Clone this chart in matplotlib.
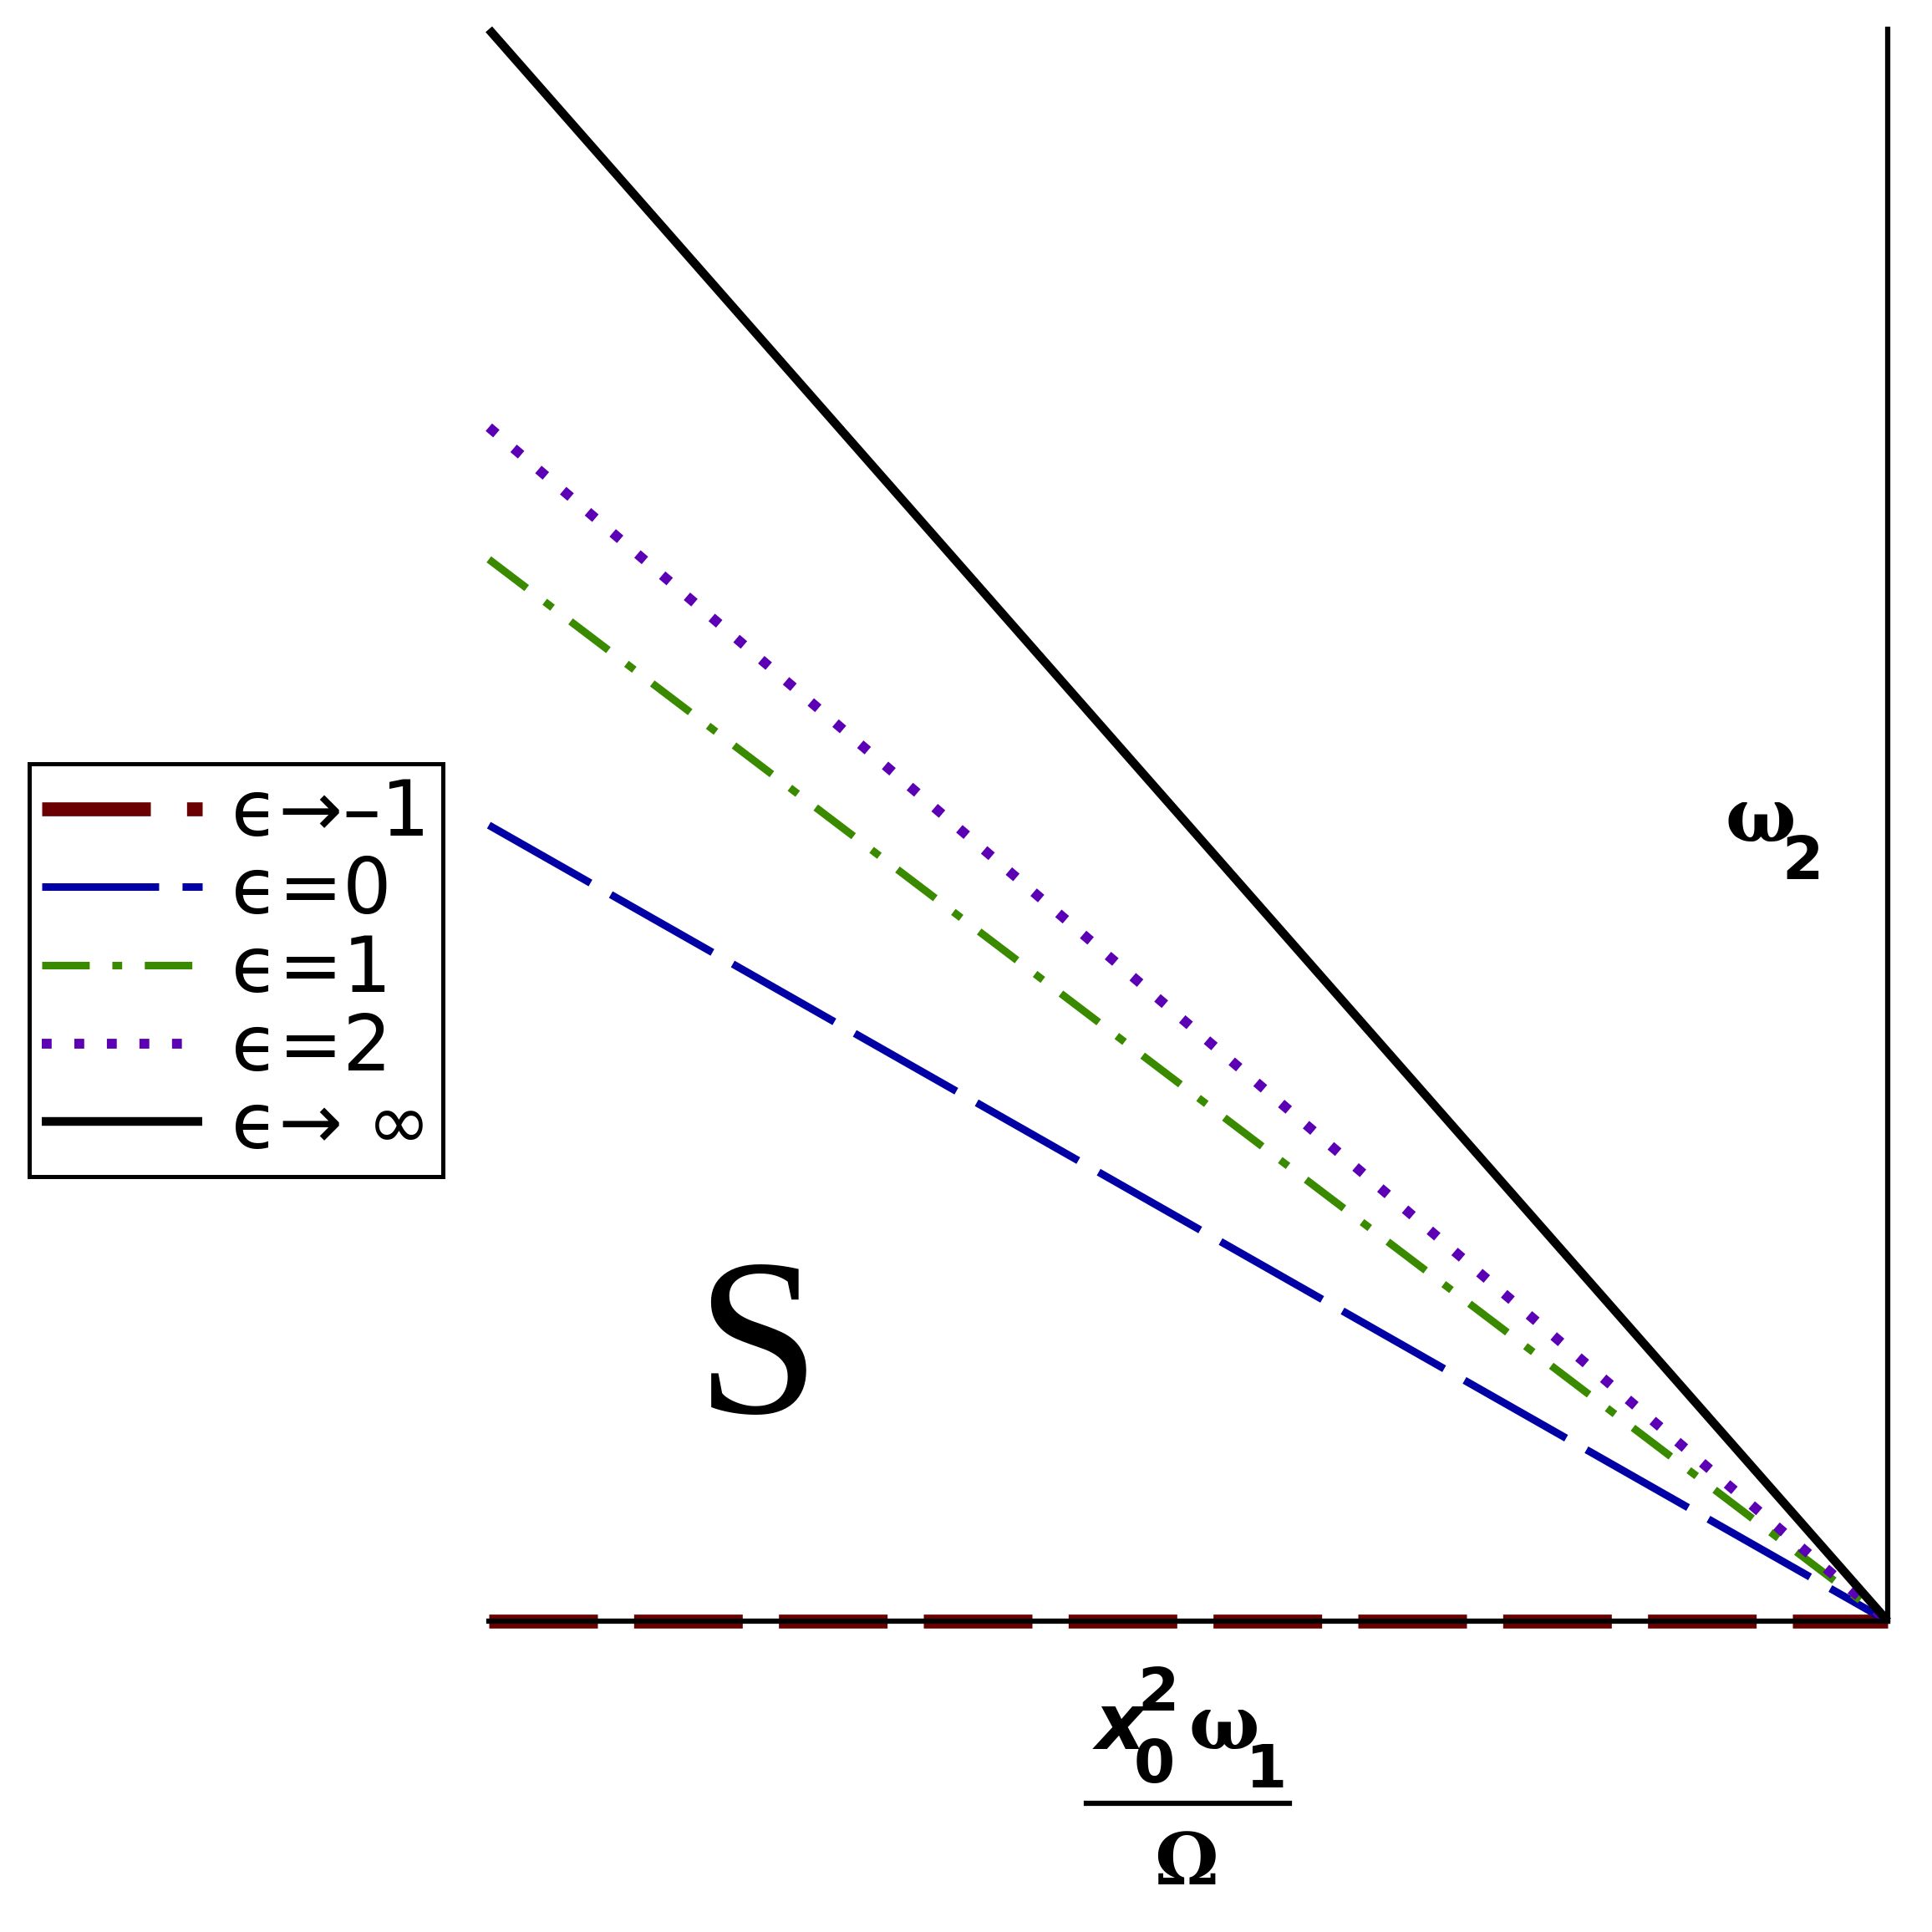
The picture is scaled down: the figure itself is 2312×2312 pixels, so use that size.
import matplotlib
matplotlib.use('Agg')
import matplotlib.pyplot as plt
from matplotlib.lines import Line2D

# data: every curve runs from x=0 to the common point (1, 0)
x_ends = [0.0, 1.0]
y_left = [0.0, 0.5, 0.667, 0.75, 1.0]
y_right = [0.0, 0.0, 0.0, 0.0, 0.0]
labels = ['ϵ→–1', 'ϵ=0', 'ϵ=1', 'ϵ=2', 'ϵ→ ∞']

colors = ['#6a0000', '#0000a5', '#3a8a00', '#5c00b5', '#000000']
widths = [12, 6.5, 6.5, 8.5, 7.5]
styles = [(0, (7.8, 2.6)), (0, (15.5, 3.1)), (0, (6.3, 3.0, 1.3, 3.0)),
          (0, (1.0, 2.3)), '-']

W = H = 2312
fig = plt.figure(figsize=(23.12, 23.12), dpi=100)
ax = fig.add_axes([585 / W, 1 - 1940 / H, (2259 - 585) / W, (1940 - 35) / H])

for i in range(len(y_left)):
    ax.plot(x_ends, [y_left[i], y_right[i]], color=colors[i], lw=widths[i],
            linestyle=styles[i], label=labels[i], clip_on=False,
            solid_capstyle='butt', zorder=2 + i * 0.1)

ax.set_xlim(0, 1)
ax.set_ylim(0, 1)
ax.set_xticks([])
ax.set_yticks([])
for s in ['top', 'left']:
    ax.spines[s].set_visible(False)
for s in ['bottom', 'right']:
    ax.spines[s].set_linewidth(4.5)
    ax.spines[s].set_zorder(5)
ax.patch.set_visible(False)

leg = ax.legend(loc='upper left', bbox_to_anchor=(35 / W, 1 - 914 / H),
                bbox_transform=fig.transFigure, borderaxespad=0,
                prop={'family': 'DejaVu Sans', 'size': 66},
                handlelength=2.1, handletextpad=0.38,
                labelspacing=0.04, borderpad=0.16, fancybox=False,
                framealpha=1, edgecolor='black')
leg.get_frame().set_linewidth(3.6)

# region label
fig.text(906 / W, 1 - 1690 / H, 'S', family='Liberation Serif', fontsize=192,
         ha='center', va='baseline')


def glyph(x, y, s, size, family='DejaVu Sans', weight='bold', style='normal'):
    fig.text(x / W, 1 - y / H, s, family=family, fontsize=size,
             weight=weight, style=style, ha='left', va='baseline')


# omega_2 near the right axis
glyph(2064, 1007, 'ω', 64, family='DejaVu Serif')
glyph(2132, 1052, '2', 51)

# x label as a fraction
glyph(1311, 2093, 'x', 66, style='italic')
glyph(1361, 2047, '2', 51)
glyph(1357, 2133, '0', 51)
glyph(1422, 2093, 'ω', 64, family='DejaVu Serif')
glyph(1490, 2139, '1', 51)
fig.add_artist(Line2D([1300 / W, 1543 / W], [1 - 2158 / H, 1 - 2158 / H],
                      color='black', lw=4.5, transform=fig.transFigure))
glyph(1381, 2255, 'Ω', 62, family='DejaVu Serif')

fig.savefig('out.png', dpi=100, facecolor='white')
